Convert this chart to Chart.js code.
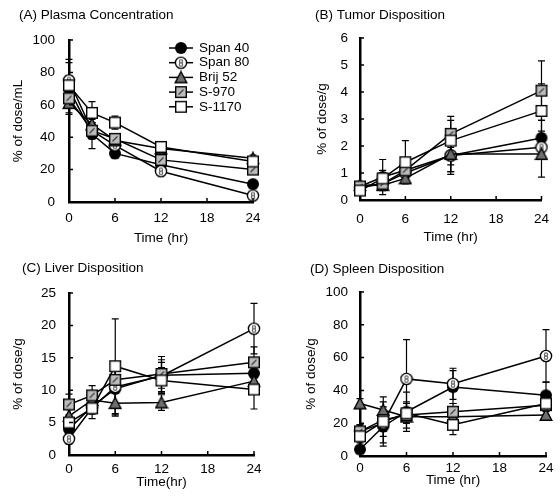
<!DOCTYPE html>
<html>
<head>
<meta charset="utf-8">
<script src="https://cdn.jsdelivr.net/npm/chart.js@4.4.0/dist/chart.umd.min.js"></script>
<style>
  body { margin: 0; background: #fff; }
  #wrap { position: relative; width: 560px; height: 499px; }
  canvas { position: absolute; }
</style>
</head>
<body>
<div id="wrap">
  <canvas id="plasma" width="280" height="250" style="left:0;top:0"></canvas>
  <canvas id="tumor" width="280" height="250" style="left:280px;top:0"></canvas>
  <canvas id="liver" width="280" height="249" style="left:0;top:250px"></canvas>
  <canvas id="spleen" width="280" height="249" style="left:280px;top:250px"></canvas>
</div>
<script>
// sampling times (hr) and surfactant names
const hours = [0, 3, 6, 12, 24];
const seriesNames = ["Span 40", "Span 80", "Brij 52", "S-970", "S-1170"];

// (A) plasma, % of dose/mL  -- one row per series
const plasmaMean = [
  [70, 42, 30, 23, 11],
  [75, 44, 35, 19, 4],
  [61, 48, 38, 33, 27],
  [64, 44, 39, 26, 20],
  [72, 55, 49, 34, 25]
];
const plasmaSD = [
  [8, 9, 3, 2, 2],
  [13, 5, 3, 2, 1],
  [6, 5, 3, 2, 2],
  [10, 5, 3, 2, 2],
  [14, 7, 4, 3, 3]
];

// (B) tumor, % of dose/g
const tumorMean = [
  [0.5, 0.85, 1.1, 1.65, 2.3],
  [0.45, 0.6, 1.0, 1.65, 1.95],
  [0.55, 0.55, 0.8, 1.7, 1.7],
  [0.5, 0.6, 1.1, 2.45, 4.05],
  [0.35, 0.8, 1.4, 2.2, 3.3]
];
const tumorSD = [
  [0.1, 0.65, 0.3, 0.6, 0.65],
  [0.1, 0.2, 0.3, 0.6, 0.4],
  [0.1, 0.2, 0.1, 0.75, 0.85],
  [0.1, 0.2, 0.3, 0.5, 1.1],
  [0.1, 0.3, 0.8, 0.9, 1.0]
];

// (C) liver, % of dose/g
const liverMean = [
  [4, 7.5, 10.2, 12.3, 12.6],
  [2.5, 7.3, 10.5, 12.2, 19.5],
  [6, 8.5, 8, 8.1, 11.4],
  [7.8, 9.2, 11.6, 12.5, 14.3],
  [5, 7.2, 13.7, 11.5, 10.1]
];
const liverSD = [
  [1, 1, 4, 2, 2],
  [0.8, 1, 3, 2.5, 3.9],
  [1, 1, 2, 1.2, 2],
  [1.6, 1.5, 2, 2.7, 2.4],
  [1, 1.6, 7.3, 2, 3]
];

// (D) spleen, % of dose/g
const spleenMean = [
  [4, 18, 27, 42, 37],
  [15, 20, 47, 44, 61],
  [32, 28, 24, 24, 25],
  [15, 22, 25, 27, 31],
  [12, 21, 26, 19, 32]
];
const spleenSD = [
  [2, 12, 12, 10, 8],
  [4, 8, 24, 9.5, 16],
  [3, 5, 4, 4, 3],
  [4, 14, 8, 5, 6],
  [4, 6, 6, 6, 5]
];

const FONT = "'Liberation Sans', Arial, sans-serif";

// marker images (same look in plots and legend)
function makeMarker(kind) {
  const c = document.createElement("canvas");
  c.width = 14; c.height = 14;
  const g = c.getContext("2d");
  g.strokeStyle = "#000";
  g.lineWidth = 1.4;
  if (kind === 0) {
    g.beginPath(); g.arc(7, 7, 6, 0, Math.PI * 2);
    g.fillStyle = "#000"; g.fill();
  } else if (kind === 1) {
    g.beginPath(); g.arc(7, 7, 5.6, 0, Math.PI * 2);
    g.fillStyle = "#fff"; g.fill(); g.stroke();
    g.strokeStyle = "#666"; g.lineWidth = 1.2;
    g.beginPath(); g.arc(7, 5.4, 1.6, 0, Math.PI * 2); g.stroke();
    g.beginPath(); g.arc(7, 8.7, 1.7, 0, Math.PI * 2); g.stroke();
  } else if (kind === 2) {
    g.beginPath(); g.moveTo(7, 1.2); g.lineTo(12.8, 12.3); g.lineTo(1.2, 12.3); g.closePath();
    g.fillStyle = "#6e6e6e"; g.fill(); g.stroke();
  } else if (kind === 3) {
    g.fillStyle = "#bdbdbd"; g.fillRect(1.7, 1.7, 10.6, 10.6);
    g.strokeStyle = "#333"; g.lineWidth = 1.1;
    g.beginPath(); g.moveTo(4.5, 9.5); g.lineTo(9.5, 4.5); g.stroke();
    g.strokeStyle = "#000"; g.lineWidth = 1.4; g.strokeRect(1.7, 1.7, 10.6, 10.6);
  } else {
    g.fillStyle = "#fff"; g.fillRect(1.7, 1.7, 10.6, 10.6);
    g.strokeRect(1.7, 1.7, 10.6, 10.6);
  }
  return c;
}
const markers = seriesNames.map((n, i) => makeMarker(i));

const panelPlugin = {
  id: "panelExtras",
  beforeDatasetsDraw(chart) {
    // error bars (mean +/- SD)
    const ctx = chart.ctx;
    const xs = chart.scales.x, ys = chart.scales.y;
    ctx.save();
    ctx.strokeStyle = "#000";
    ctx.lineWidth = 1.2;
    chart.data.datasets.forEach(ds => {
      ds.data.forEach((pt, i) => {
        const sd = ds.sd[i];
        const px = xs.getPixelForValue(pt.x);
        const top = ys.getPixelForValue(pt.y + sd);
        const bot = ys.getPixelForValue(Math.max(pt.y - sd, 0));
        ctx.beginPath();
        ctx.moveTo(px, top); ctx.lineTo(px, bot);
        ctx.moveTo(px - 3.5, top); ctx.lineTo(px + 3.5, top);
        ctx.moveTo(px - 3.5, bot); ctx.lineTo(px + 3.5, bot);
        ctx.stroke();
      });
    });
    ctx.restore();
  },
  afterDraw(chart) {
    const ctx = chart.ctx;
    const o = chart.options.plugins.panelExtras;
    const xs = chart.scales.x, ys = chart.scales.y;
    const area = chart.chartArea;
    ctx.save();
    // inward tick marks
    ctx.strokeStyle = "#000";
    ctx.lineWidth = 1.5;
    ctx.beginPath();
    xs.ticks.forEach(t => {
      if (t.value === 0) return;
      const px = xs.getPixelForValue(t.value);
      ctx.moveTo(px, area.bottom); ctx.lineTo(px, area.bottom - 4);
    });
    ys.ticks.forEach(t => {
      if (t.value === 0) return;
      const py = ys.getPixelForValue(t.value);
      ctx.moveTo(area.left, py); ctx.lineTo(area.left + 4, py);
    });
    ctx.stroke();
    // panel title
    ctx.fillStyle = "#000";
    ctx.font = "13.5px " + FONT;
    ctx.textBaseline = "middle";
    ctx.textAlign = "left";
    ctx.fillText(o.title, o.titleX, o.titleY);
    // legend
    if (o.legend) {
      ctx.lineWidth = 1.5;
      seriesNames.forEach((name, i) => {
        const y = o.legend.y + i * o.legend.gap;
        ctx.beginPath();
        ctx.moveTo(o.legend.x, y); ctx.lineTo(o.legend.x + 24, y);
        ctx.stroke();
        ctx.drawImage(markers[i], o.legend.x + 5, y - 7);
        ctx.fillText(name, o.legend.x + 30, y);
      });
    }
    ctx.restore();
  }
};

function makePanel(id, means, sds, opts) {
  const canvas = document.getElementById(id);
  const H = canvas.height;
  const box = opts.box;
  const tickFont = { family: FONT, size: 13.5 };
  const datasets = seriesNames.map((name, i) => ({
    label: name,
    data: means[i].map((v, k) => ({ x: hours[k], y: v })),
    sd: sds[i],
    order: -i, // later series drawn on top
    borderColor: "#000",
    borderWidth: 1.5,
    pointStyle: markers[i],
    pointRadius: 6,
    fill: false,
    tension: 0,
    clip: false
  }));
  return new Chart(canvas, {
    type: "line",
    data: { datasets },
    options: {
      responsive: false,
      animation: false,
      devicePixelRatio: 1,
      layout: { padding: { left: 0, top: box.top, right: canvas.width - box.right, bottom: 0 } },
      plugins: {
        legend: { display: false },
        tooltip: { enabled: false },
        panelExtras: opts
      },
      scales: {
        x: {
          type: "linear", min: 0, max: 24,
          afterFit: s => { s.height = H - box.bottom; },
          grid: { display: false, drawTicks: false },
          border: { display: true, color: "#000", width: 2.5 },
          ticks: { stepSize: 6, color: "#000", padding: opts.xPad, font: tickFont },
          title: { display: true, text: opts.xTitle, color: "#000", padding: { top: 0, bottom: opts.xTitlePad }, font: tickFont }
        },
        y: {
          min: 0, max: opts.yMax,
          afterFit: s => { s.width = box.left; },
          grid: { display: false, drawTicks: false },
          border: { display: true, color: "#000", width: 2.5 },
          ticks: { stepSize: opts.yStep, color: "#000", padding: opts.yPad, font: tickFont },
          title: { display: true, text: opts.yTitle, color: "#000", padding: { top: opts.yTitlePad, bottom: 0 }, font: tickFont }
        }
      }
    },
    plugins: [panelPlugin]
  });
}

makePanel("plasma", plasmaMean, plasmaSD, {
  box: { left: 69, right: 253, top: 40, bottom: 202 },
  title: "(A) Plasma Concentration", titleX: 19, titleY: 15,
  xTitle: "Time (hr)", yTitle: "% of dose/mL",
  yMax: 100, yStep: 20, xPad: 8, yPad: 14, xTitlePad: 4, yTitlePad: 10,
  legend: { x: 169, y: 48, gap: 14.7 }
});
makePanel("tumor", tumorMean, tumorSD, {
  box: { left: 80, right: 266, top: 38, bottom: 200 },
  title: "(B) Tumor Disposition", titleX: 35, titleY: 15,
  xTitle: "Time (hr)", yTitle: "% of dose/g",
  yMax: 6, yStep: 1, xPad: 11, yPad: 12, xTitlePad: 5, yTitlePad: 34
});
makePanel("liver", liverMean, liverSD, {
  box: { left: 69, right: 254, top: 43, bottom: 205 },
  title: "(C) Liver Disposition", titleX: 22, titleY: 18,
  xTitle: "Time(hr)", yTitle: "% of dose/g",
  yMax: 25, yStep: 5, xPad: 6, yPad: 13, xTitlePad: 9, yTitlePad: 10
});
makePanel("spleen", spleenMean, spleenSD, {
  box: { left: 80, right: 266, top: 42, bottom: 206 },
  title: "(D) Spleen Disposition", titleX: 30, titleY: 19,
  xTitle: "Time (hr)", yTitle: "% of dose/g",
  yMax: 100, yStep: 20, xPad: 4, yPad: 12, xTitlePad: 11, yTitlePad: 23
});
</script>
</body>
</html>
